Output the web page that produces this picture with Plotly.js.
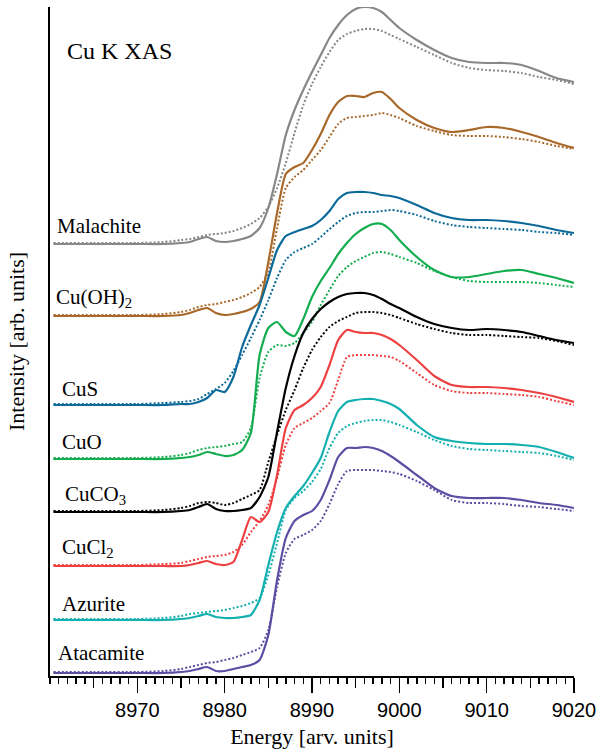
<!DOCTYPE html>
<html>
<head>
<meta charset="utf-8">
<script src="https://cdn.plot.ly/plotly-3.0.1.min.js"></script>
<style>
  html, body { margin: 0; padding: 0; background: #fff; }
  #chart { width: 600px; height: 753px; }
</style>
</head>
<body>
<div id="chart"></div>
<script>
// Photon energy grid (eV), dense across the edge region
const energy = [8960.4, 8965, 8970, 8973, 8975,
  8976, 8977, 8978, 8979, 8980, 8981, 8982, 8983, 8984, 8985, 8986, 8987, 8988, 8989, 8990,
  8991, 8992, 8993, 8994, 8995, 8996, 8997, 8998, 8999, 9000,
  9002, 9004, 9006, 9008, 9010, 9012, 9014, 9016, 9018, 9020];

// Sample names (top to bottom) and their vertical stacking offsets
const sampleNames = ['Malachite', 'Cu(OH)<sub>2</sub>', 'CuS', 'CuO', 'CuCO<sub>3</sub>', 'CuCl<sub>2</sub>', 'Azurite', 'Atacamite'];
const offsets = [4.32, 3.60, 2.71, 2.17, 1.64, 1.10, 0.56, 0.03];

// Cu K-edge spectra, solid and dotted measurement for each sample
const malachiteSolid  = [0,0,0,0,0.01,0.02,0.05,0.07,0.03,0.02,0.03,0.05,0.08,0.16,0.36,0.70,1.09,1.34,1.54,1.72,1.89,2.06,2.19,2.29,2.35,2.37,2.36,2.32,2.24,2.16,2.04,1.94,1.86,1.82,1.81,1.81,1.79,1.73,1.66,1.62];
const malachiteDotted = [0.01,0.01,0.01,0.02,0.04,0.05,0.07,0.09,0.10,0.11,0.13,0.16,0.20,0.26,0.37,0.56,0.81,1.11,1.39,1.60,1.77,1.92,2.04,2.10,2.13,2.15,2.15,2.13,2.09,2.05,1.97,1.89,1.81,1.76,1.74,1.73,1.71,1.67,1.64,1.60];

const cuOH2Solid  = [0,0,0,0,0.01,0.03,0.06,0.08,0.03,0.01,0.02,0.04,0.07,0.14,0.54,1.03,1.42,1.49,1.53,1.66,1.82,2.01,2.14,2.20,2.20,2.19,2.23,2.24,2.17,2.08,1.96,1.88,1.84,1.86,1.89,1.88,1.84,1.79,1.73,1.68];
const cuOH2Dotted = [0.01,0.01,0.01,0.02,0.04,0.06,0.09,0.11,0.12,0.14,0.16,0.19,0.23,0.29,0.44,0.88,1.28,1.39,1.46,1.56,1.66,1.79,1.92,1.98,1.99,2.00,2.01,2.03,2.01,1.98,1.90,1.85,1.81,1.80,1.80,1.79,1.77,1.74,1.70,1.67];

const cuSSolid  = [0,0,0,0,0.01,0.01,0.03,0.07,0.15,0.13,0.28,0.58,0.80,1.00,1.27,1.55,1.69,1.73,1.76,1.79,1.85,1.94,2.06,2.12,2.13,2.13,2.12,2.10,2.09,2.07,2.00,1.92,1.87,1.85,1.85,1.84,1.82,1.79,1.75,1.72];
const cuSDotted = [0.01,0.01,0.01,0.02,0.03,0.04,0.06,0.11,0.16,0.22,0.34,0.50,0.67,0.85,1.05,1.27,1.45,1.53,1.57,1.61,1.68,1.76,1.83,1.89,1.92,1.93,1.93,1.94,1.95,1.94,1.90,1.84,1.80,1.78,1.77,1.76,1.75,1.73,1.72,1.70];

const cuOSolid  = [0,0,0,0,0.01,0.02,0.04,0.07,0.05,0.03,0.04,0.09,0.26,1.04,1.31,1.37,1.27,1.23,1.40,1.62,1.78,1.91,2.05,2.16,2.25,2.31,2.35,2.35,2.29,2.19,2.02,1.89,1.82,1.82,1.85,1.88,1.89,1.85,1.81,1.76];
const cuODotted = [0.01,0.01,0.01,0.02,0.04,0.06,0.09,0.11,0.12,0.13,0.15,0.17,0.31,0.81,1.07,1.14,1.13,1.16,1.26,1.37,1.54,1.69,1.83,1.92,1.98,2.02,2.06,2.07,2.05,2.02,1.96,1.88,1.82,1.78,1.77,1.77,1.77,1.76,1.74,1.72];

const cuCO3Solid  = [0,0,0,0,0.01,0.02,0.05,0.08,0.03,0.01,0.01,0.02,0.04,0.15,0.35,0.80,1.24,1.56,1.79,1.93,2.03,2.10,2.15,2.18,2.19,2.19,2.17,2.13,2.08,2.04,1.95,1.88,1.84,1.82,1.83,1.82,1.80,1.76,1.72,1.69];
const cuCO3Dotted = [0.01,0.01,0.01,0.02,0.04,0.06,0.09,0.10,0.09,0.07,0.09,0.13,0.17,0.22,0.50,0.77,1.02,1.22,1.44,1.62,1.75,1.85,1.91,1.95,1.99,2.00,2.00,1.99,1.97,1.94,1.88,1.83,1.79,1.77,1.77,1.76,1.75,1.74,1.71,1.67];

const cuCl2Solid  = [0,0,0,0,0,0.01,0.03,0.05,0.02,0.01,0.04,0.26,0.49,0.44,0.54,0.91,1.38,1.56,1.61,1.68,1.79,2.01,2.26,2.36,2.34,2.33,2.33,2.31,2.27,2.21,2.06,1.90,1.81,1.79,1.79,1.78,1.76,1.73,1.69,1.64];
const cuCl2Dotted = [0.01,0.01,0.01,0.02,0.03,0.05,0.07,0.09,0.10,0.11,0.14,0.21,0.34,0.45,0.61,0.88,1.21,1.38,1.43,1.48,1.55,1.63,1.86,2.09,2.11,2.11,2.11,2.10,2.09,2.05,1.93,1.81,1.75,1.73,1.73,1.72,1.71,1.69,1.65,1.61];

const azuriteSolid  = [0,0,0,0,0.01,0.02,0.04,0.06,0.03,0.02,0.02,0.03,0.05,0.20,0.55,0.88,1.12,1.24,1.34,1.47,1.62,1.88,2.09,2.18,2.20,2.21,2.21,2.19,2.16,2.11,1.95,1.83,1.79,1.77,1.76,1.76,1.75,1.73,1.68,1.62];
const azuriteDotted = [0.01,0.01,0.01,0.02,0.04,0.06,0.07,0.08,0.09,0.10,0.12,0.14,0.17,0.22,0.45,0.77,1.10,1.22,1.29,1.38,1.51,1.72,1.87,1.94,1.97,1.99,2.00,2.00,1.98,1.95,1.88,1.80,1.74,1.71,1.70,1.69,1.68,1.67,1.64,1.60];

const atacamiteSolid  = [0,0,0,0,0.01,0.02,0.04,0.06,0.02,0.02,0.04,0.06,0.08,0.13,0.38,0.93,1.35,1.52,1.58,1.62,1.73,1.93,2.16,2.25,2.25,2.26,2.25,2.22,2.17,2.11,1.98,1.85,1.77,1.75,1.75,1.75,1.73,1.70,1.68,1.65];
const atacamiteDotted = [0.01,0.01,0.01,0.02,0.04,0.06,0.08,0.10,0.11,0.13,0.15,0.18,0.21,0.25,0.43,0.86,1.20,1.34,1.38,1.43,1.52,1.69,1.89,2.02,2.03,2.03,2.03,2.02,2.01,1.99,1.92,1.83,1.73,1.70,1.70,1.69,1.67,1.66,1.64,1.62];

// X-axis tick values
const majorTicks = [8970, 8980, 8990, 9000, 9010, 9020];
const midTicks = [8965, 8975, 8985, 8995, 9005, 9015];

const solidSeries = [malachiteSolid, cuOH2Solid, cuSSolid, cuOSolid, cuCO3Solid, cuCl2Solid, azuriteSolid, atacamiteSolid];
const dottedSeries = [malachiteDotted, cuOH2Dotted, cuSDotted, cuODotted, cuCO3Dotted, cuCl2Dotted, azuriteDotted, atacamiteDotted];

const colors = ['#878787', '#a8682a', '#0b6a9a', '#13ad4f', '#000000', '#ee4040', '#14b0b0', '#5e4ca3'];
const serif = 'Liberation Serif, Times New Roman, serif';

const traces = [];
sampleNames.forEach((name, i) => {
  const shift = v => v + offsets[i];
  traces.push({
    x: energy, y: dottedSeries[i].map(shift), type: 'scatter', mode: 'lines',
    name: name + ' (dotted)', hoverinfo: 'skip',
    line: { color: colors[i], width: 2, dash: '2px,2px', shape: 'spline', smoothing: 0.6 }
  });
  traces.push({
    x: energy, y: solidSeries[i].map(shift), type: 'scatter', mode: 'lines',
    name: name, hoverinfo: 'skip',
    line: { color: colors[i], width: 2.2, shape: 'spline', smoothing: 0.6 }
  });
});
// carrier trace for the secondary tick axis (5 eV ticks)
traces.push({ x: [8960, 9020], y: [null, null], xaxis: 'x2', yaxis: 'y', mode: 'lines', showlegend: false, hoverinfo: 'skip' });

// label placement: left edge (px) and vertical centre relative to each baseline
const labelLeftPx = [55, 54, 60, 60, 63, 60, 60, 56];
const labelRise = [0.18, 0.18, 0.16, 0.17, 0.17, 0.18, 0.16, 0.20];

const annotations = sampleNames.map((name, i) => ({
  text: name, xref: 'paper', yref: 'y',
  x: (labelLeftPx[i] - 50) / 524, y: offsets[i] + labelRise[i],
  xanchor: 'left', yanchor: 'middle', showarrow: false,
  font: { family: serif, size: 21, color: '#000' }
}));
annotations.push({
  text: 'Cu K XAS', xref: 'paper', yref: 'paper',
  x: (65 - 50) / 524, y: (676 - 51) / 669,
  xanchor: 'left', yanchor: 'middle', showarrow: false,
  font: { family: serif, size: 24, color: '#000' }
});

const layout = {
  width: 600, height: 753,
  margin: { l: 50, r: 26, t: 7, b: 77 },
  paper_bgcolor: '#fff', plot_bgcolor: '#fff',
  showlegend: false,
  font: { family: serif, color: '#000' },
  xaxis: {
    range: [8960, 9020], showgrid: false, zeroline: false,
    showline: true, linecolor: '#000', linewidth: 2,
    ticks: 'outside', tickmode: 'array', tickvals: majorTicks,
    ticklen: 15, tickwidth: 1.5, tickcolor: '#000',
    tickfont: { family: 'Liberation Sans, Arial, sans-serif', size: 20, color: '#000' },
    minor: { dtick: 1, tick0: 8960, ticks: 'outside', ticklen: 6, tickwidth: 1.5, tickcolor: '#000', showgrid: false },
    title: { text: 'Energy [arv. units]', font: { family: serif, size: 22, color: '#000' }, standoff: 9 }
  },
  xaxis2: {
    overlaying: 'x', matches: 'x', anchor: 'y', side: 'bottom',
    showgrid: false, zeroline: false, showline: false,
    ticks: 'outside', tickmode: 'array', tickvals: midTicks,
    ticklen: 11, tickwidth: 1.5, tickcolor: '#000', showticklabels: false
  },
  yaxis: {
    range: [0, 6.69], showgrid: false, zeroline: false,
    showline: true, linecolor: '#000', linewidth: 2,
    ticks: '', showticklabels: false,
    title: { text: 'Intensity [arb. units]', font: { family: serif, size: 22, color: '#000' }, standoff: 17 }
  },
  annotations: annotations
};

Plotly.newPlot('chart', traces, layout, { displayModeBar: false, staticPlot: true });
</script>
</body>
</html>
